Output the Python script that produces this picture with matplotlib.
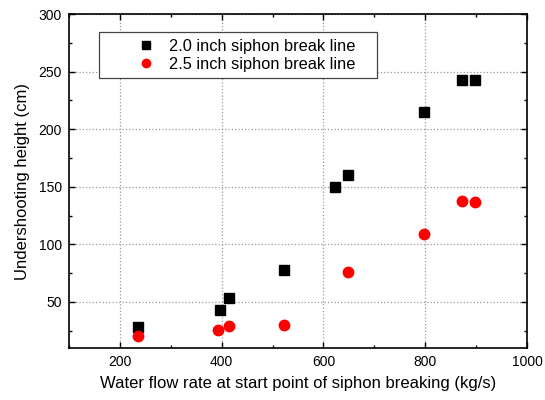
import matplotlib
matplotlib.use("Agg")
import matplotlib.pyplot as plt
from matplotlib.ticker import MultipleLocator

plt.rcParams.update({
    "font.family": ["Liberation Sans", "DejaVu Sans"],
    "font.size": 10,
})

# 2.0 inch siphon break line
flow_20 = [236, 397, 415, 522, 622, 649, 797, 872, 897]
height_20 = [28, 43, 53, 78, 150, 160, 215, 243, 243]

# 2.5 inch siphon break line
flow_25 = [236, 393, 415, 523, 649, 797, 872, 897]
height_25 = [20, 26, 29, 30, 76, 109, 138, 137]

fig = plt.figure(figsize=(5.45, 4.0), dpi=100)
ax = fig.add_axes([69 / 545, 52 / 400, 458 / 545, 334 / 400])

ax.plot(flow_20, height_20, "s", color="black", markersize=7,
        markeredgecolor="black", label="2.0 inch siphon break line")
ax.plot(flow_25, height_25, "o", color="#ff0000", markersize=7.5,
        markeredgecolor="#ff0000", label="2.5 inch siphon break line")

ax.set_xlim(100, 1000)
ax.set_ylim(10, 300)
ax.xaxis.set_major_locator(MultipleLocator(200))
ax.xaxis.set_minor_locator(MultipleLocator(100))
ax.yaxis.set_major_locator(MultipleLocator(50))
ax.yaxis.set_minor_locator(MultipleLocator(25))
ax.set_yticks([50, 100, 150, 200, 250, 300])

ax.tick_params(which="both", direction="in", top=True, right=True,
               labelsize=10, width=1.0, pad=5)
ax.tick_params(which="major", length=4.5)
ax.tick_params(which="minor", length=2.5)
for s in ax.spines.values():
    s.set_linewidth(1.2)

ax.grid(True, which="major", color="#999999", linestyle=":", linewidth=0.9)

ax.set_xlabel("Water flow rate at start point of siphon breaking (kg/s)",
              fontsize=12, labelpad=5)
ax.set_ylabel("Undershooting height (cm)", fontsize=12, labelpad=6)

leg = ax.legend(loc="upper left", bbox_to_anchor=(0.0655, 0.0, 0.607, 0.946),
                mode="expand", fontsize=11.8, frameon=True, fancybox=False,
                edgecolor="#444444", framealpha=1, borderpad=0.4,
                handlelength=4.9, handletextpad=-1.0, labelspacing=0.2,
                borderaxespad=0, markerscale=0.8)
leg.get_frame().set_linewidth(0.9)

fig.savefig("out.png", dpi=100)
